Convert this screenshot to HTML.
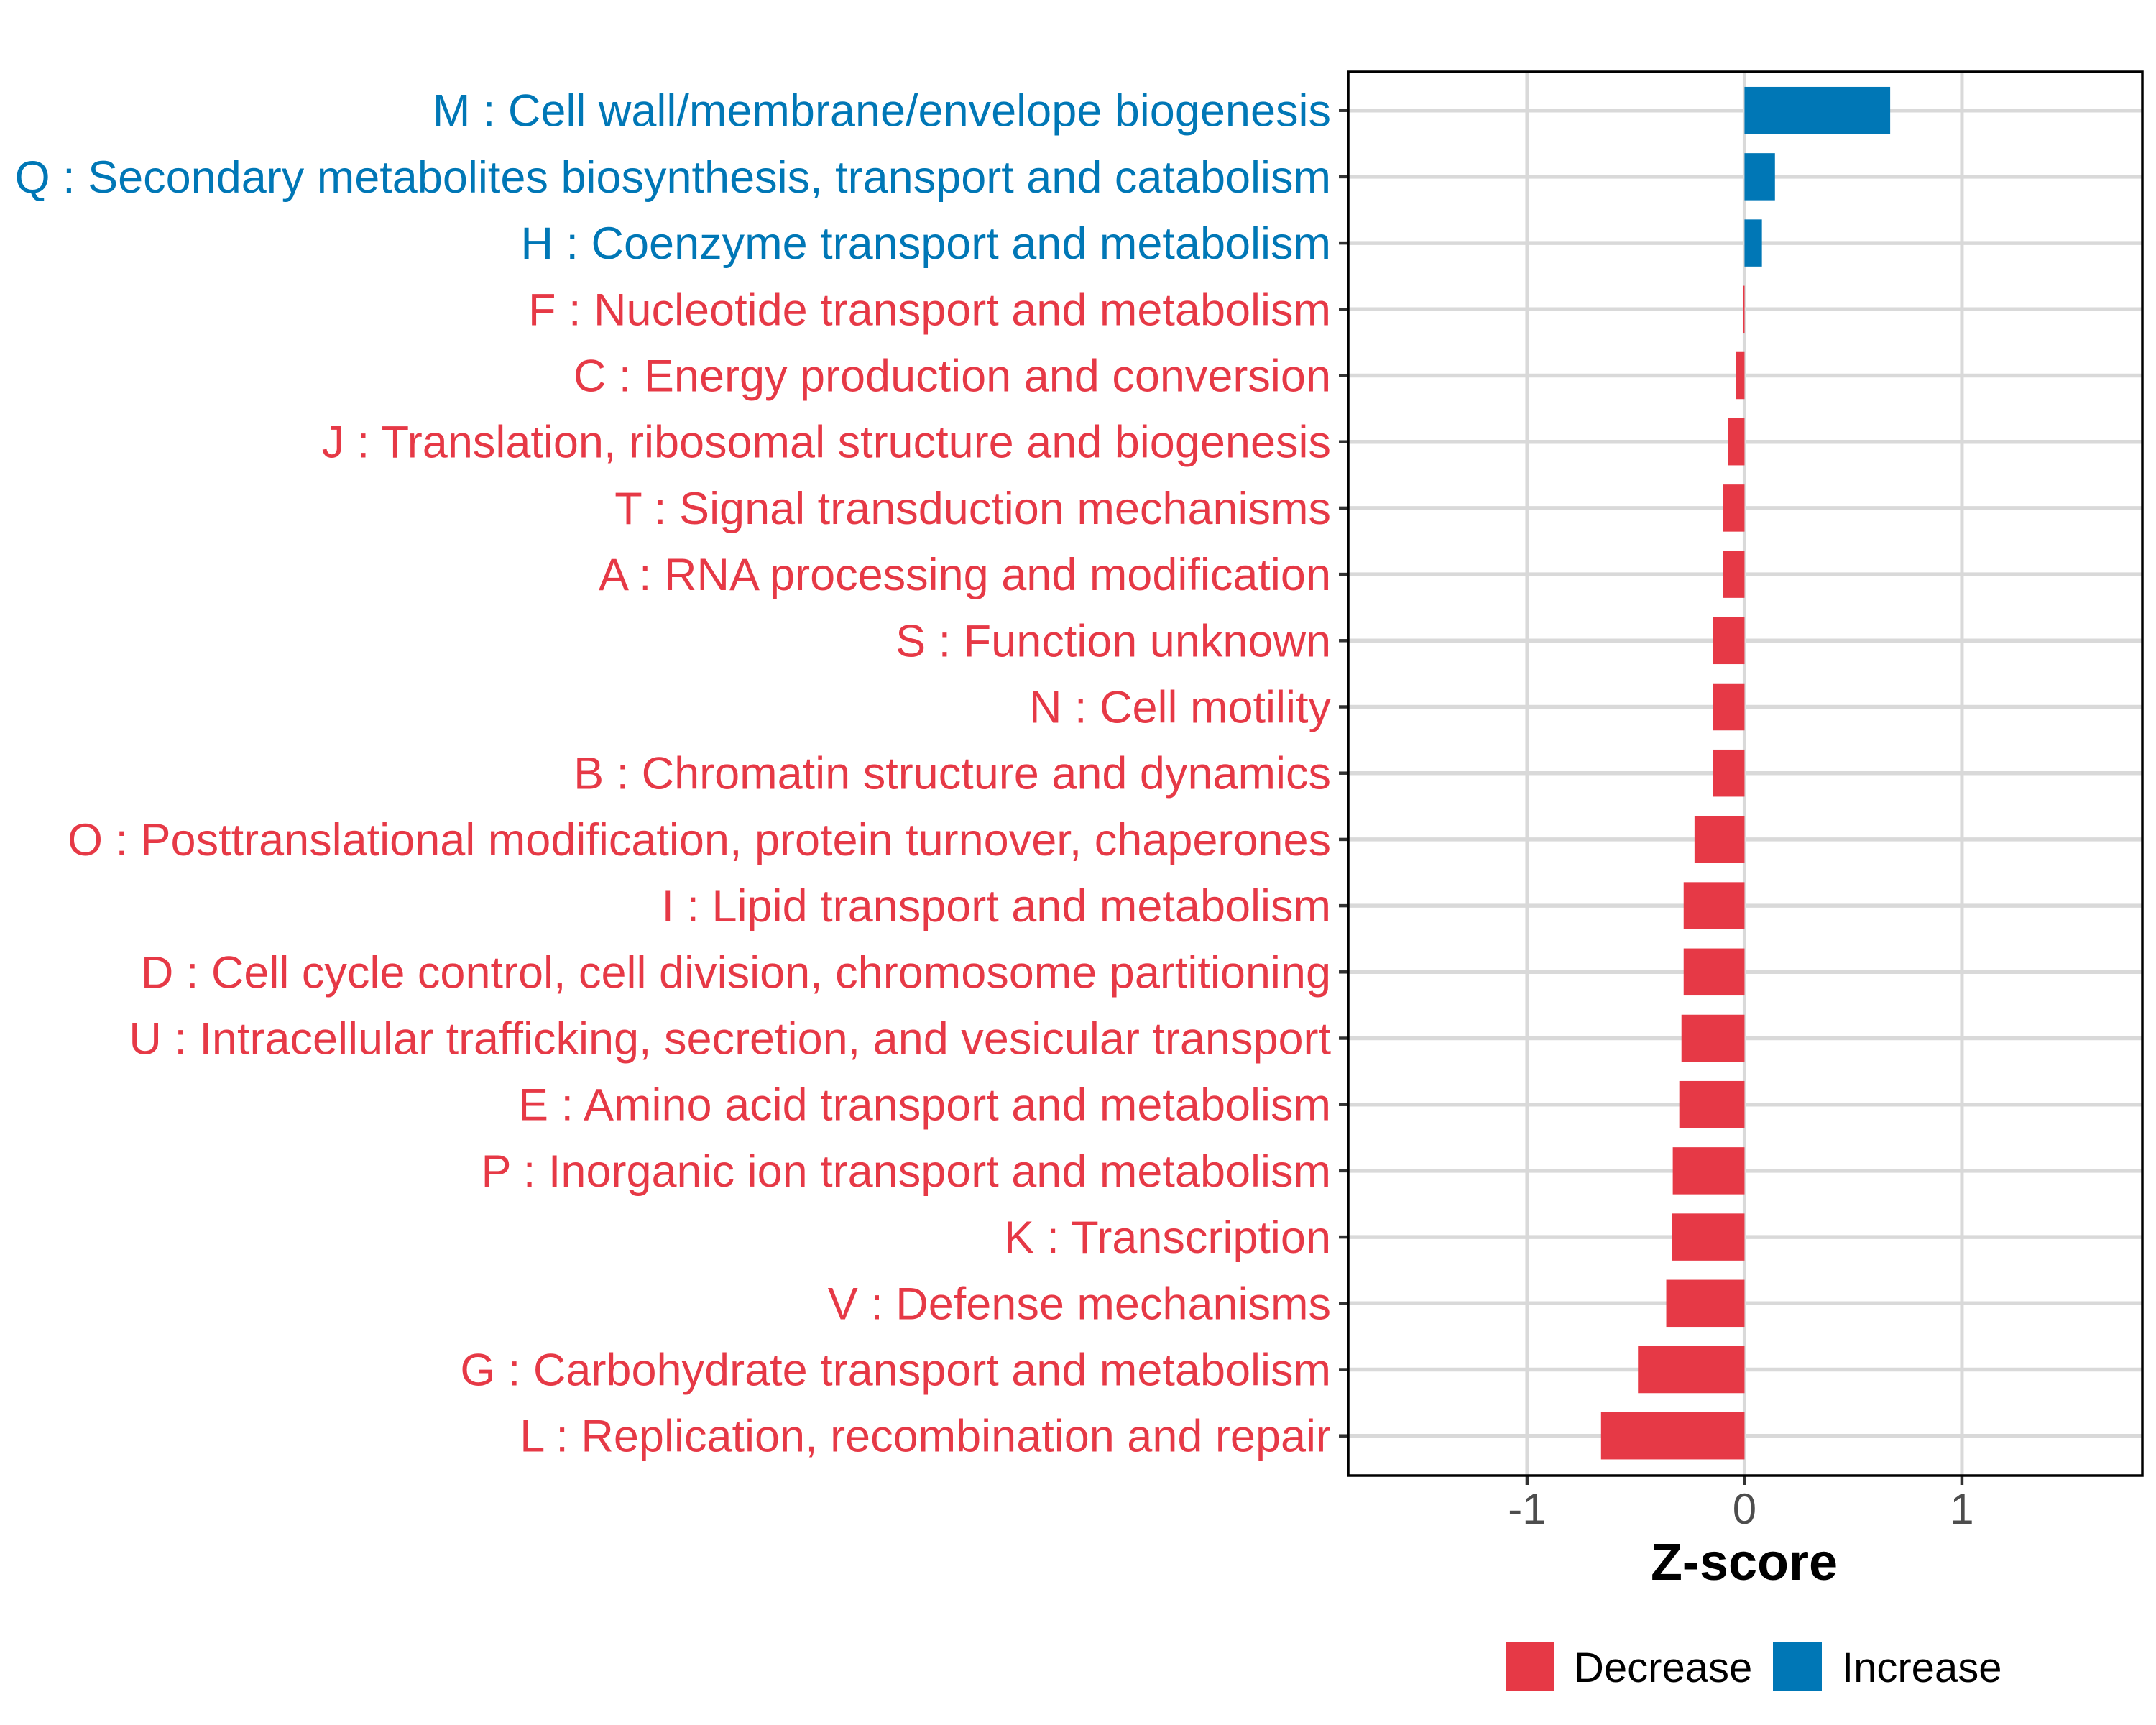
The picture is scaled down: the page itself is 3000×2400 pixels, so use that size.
<!DOCTYPE html>
<html><head><meta charset="utf-8"><style>
html,body{margin:0;padding:0;background:#fff;}
svg{display:block;font-family:"Liberation Sans",Arial,sans-serif;}
</style></head><body>
<svg id="chart" width="3000" height="2400" viewBox="0 0 3000 2400" xmlns="http://www.w3.org/2000/svg">
<rect x="0" y="0" width="3000" height="2400" fill="#fff"/>
<g id="grid"></g><g id="bars"></g><g id="labels"></g><g id="axis"></g>
<rect x="1876" y="100" width="1105" height="1953" fill="none" stroke="#000" stroke-width="3.5"/>
<text x="2427" y="2198" font-size="72" font-weight="bold" text-anchor="middle" fill="#000">Z-score</text>
<rect x="2095" y="2285" width="67" height="67" fill="#E63946"/>
<text x="2190" y="2340" font-size="58" fill="#000">Decrease</text>
<rect x="2467" y="2285" width="68" height="67" fill="#0077B6"/>
<text x="2563" y="2340" font-size="58" fill="#000">Increase</text>
</svg>
<script>
const categories = ["M : Cell wall/membrane/envelope biogenesis","Q : Secondary metabolites biosynthesis, transport and catabolism","H : Coenzyme transport and metabolism","F : Nucleotide transport and metabolism","C : Energy production and conversion","J : Translation, ribosomal structure and biogenesis","T : Signal transduction mechanisms","A : RNA processing and modification","S : Function unknown","N : Cell motility","B : Chromatin structure and dynamics","O : Posttranslational modification, protein turnover, chaperones","I : Lipid transport and metabolism","D : Cell cycle control, cell division, chromosome partitioning","U : Intracellular trafficking, secretion, and vesicular transport","E : Amino acid transport and metabolism","P : Inorganic ion transport and metabolism","K : Transcription","V : Defense mechanisms","G : Carbohydrate transport and metabolism","L : Replication, recombination and repair"];
const zscores = [0.67,0.14,0.08,-0.008,-0.04,-0.076,-0.10,-0.10,-0.145,-0.145,-0.145,-0.23,-0.28,-0.28,-0.29,-0.30,-0.33,-0.335,-0.36,-0.49,-0.66];
const xTicks = [-1,0,1];
const xTickLabels = ["-1","0","1"];
const NS="http://www.w3.org/2000/svg";
const X0=1876,X1=2981,XMIN=-1.823,XMAX=1.83;
const xs=v=>X0+(v-XMIN)/(XMAX-XMIN)*(X1-X0);
const ys=i=>153.7+i*92.2;
const BH=65.5;
function mk(tag,attrs,parent){const e=document.createElementNS(NS,tag);for(const k in attrs)e.setAttribute(k,attrs[k]);parent.appendChild(e);return e;}
const grid=document.getElementById('grid'),bars=document.getElementById('bars'),labels=document.getElementById('labels'),axis=document.getElementById('axis');
xTicks.forEach((t,i)=>{
  const g=mk('line',{x1:xs(t),x2:xs(t),y1:100,y2:2053,stroke:'#d9d9d9','stroke-width':5},grid);
  
  
  const tk=mk('line',{x1:xs(t),x2:xs(t),y1:2053,y2:2066,stroke:'#333','stroke-width':4.5},axis);
  
  
  const tl=mk('text',{x:xs(t),y:2120,'font-size':60,'text-anchor':'middle',fill:'#4d4d4d'},axis);
  
  
  tl.textContent=xTickLabels[i];
});
categories.forEach((c,i)=>{
  const y=ys(i),v=zscores[i];
  const col=v>=0?'#0077B6':'#E63946';
  const gl=mk('line',{x1:X0,x2:X1,y1:y,y2:y,stroke:'#d9d9d9','stroke-width':5.5},grid);
  
  
  const a=xs(Math.min(0,v)),b=xs(Math.max(0,v));
  const r=mk('rect',{x:a,y:y-BH/2,width:Math.max(b-a,2.5),height:BH,fill:col},bars);
  
  
  const tk=mk('line',{x1:1863,x2:1876,y1:y,y2:y,stroke:'#333','stroke-width':4.5},axis);
  
  
  const t=mk('text',{x:1852,y:y+22,'font-size':63,'text-anchor':'end',fill:col},labels);
  
  
  t.textContent=c;
});
</script>
</body></html>
